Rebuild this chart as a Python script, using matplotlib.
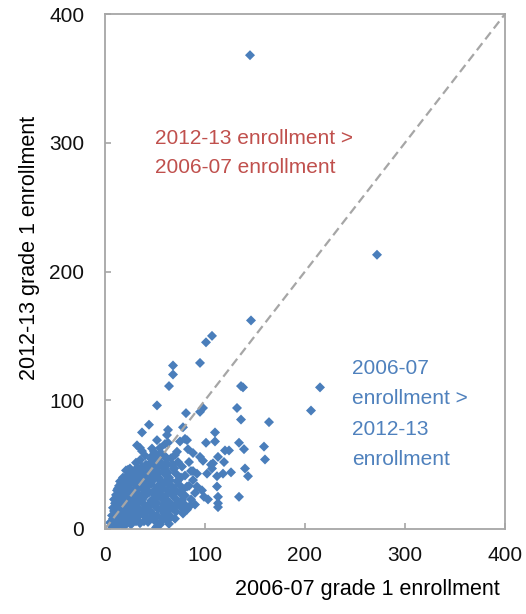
import matplotlib
matplotlib.use("Agg")
import matplotlib.pyplot as plt
from matplotlib import font_manager

# ---- enrollment data: (2006-07, 2012-13) grade 1 enrollment per school ----
# schools away from the main cluster
outlier_x = [145, 272, 146, 101, 107, 95, 68, 68, 64, 52, 136, 138, 98, 95, 132,
             136, 164, 110, 110, 134, 139, 159, 160, 120, 124, 113, 108, 107, 119,
             140, 143, 126, 118, 112, 134, 113, 113, 113, 99, 103, 215, 206, 81,
             44, 37, 63, 62, 32, 35, 52, 55, 60, 63, 75, 80, 83, 72, 88, 95, 98,
             112, 101, 106, 102, 92, 88, 92, 97, 90, 82, 78, 82, 23, 55, 52]
outlier_y = [368, 213, 162, 145, 150, 129, 127, 120, 111, 96, 111, 110, 94, 91, 94,
             85, 83, 75, 68, 67, 62, 64, 54, 61, 61, 56, 51, 47, 52,
             47, 41, 44, 43, 41, 25, 25, 20, 17, 25, 23, 110, 92, 90,
             81, 75, 77, 73, 65, 63, 69, 63, 66, 67, 68, 70, 62, 60, 59, 56, 53,
             33, 67, 50, 43, 43, 38, 33, 30, 19, 15, 79, 69, 46, 5, 2]

# schools in the dense cluster
cluster_x = [
    6, 10, 14, 19, 51, 55,
    5, 9, 12, 17, 21, 26, 31, 35, 43, 64,
    8, 11, 15, 18, 23, 28, 33, 39, 45, 49, 57, 70,
    7, 13, 16, 22, 25, 30, 35, 41, 47, 52, 61, 66, 62,
    9, 11, 16, 20, 24, 28, 32, 37, 42, 46, 53, 59, 63, 71, 78, 68,
    8, 12, 14, 18, 22, 27, 31, 35, 40, 44, 50, 56, 62, 67, 76, 72,
    10, 12, 16, 21, 25, 29, 34, 38, 43, 48, 52, 59, 64, 73, 79, 85,
    9, 13, 15, 19, 24, 28, 32, 37, 40, 46, 51, 57, 61, 70, 86, 77,
    11, 14, 18, 22, 27, 31, 35, 38, 44, 50, 55, 60, 68, 75, 80,
    12, 13, 17, 21, 24, 30, 33, 39, 42, 48, 53, 58, 62, 71, 78, 66,
    14, 16, 20, 23, 29, 32, 36, 41, 46, 52, 57, 63, 67, 74, 84, 90,
    15, 19, 22, 28, 31, 37, 40, 46, 49, 56, 61, 65, 72, 82,
    18, 23, 26, 31, 34, 39, 45, 48, 54, 60, 64, 80, 76,
    21, 26, 30, 33, 38, 44, 47, 53, 59, 63, 71, 86, 69,
    25, 32, 37, 43, 46, 52, 58, 62, 69, 77, 88,
    31, 41, 45, 51, 57, 61, 68, 73,
    35, 46, 50, 54, 62, 84,
    40, 48, 55, 60, 70, 66,
    37, 49, 56,
    47,
]
cluster_y = [
    2.5, 1.5, 3.0, 2.0, 1.0, 3.5,
    5.0, 4.0, 6.5, 4.5, 5.5, 3.5, 6.0, 4.5, 5.5, 4.0,
    8.0, 7.0, 9.0, 6.5, 8.5, 7.5, 9.5, 6.0, 8.0, 7.0, 8.5, 8.0,
    10.5, 12.0, 9.5, 11.0, 12.5, 10.0, 11.5, 9.0, 12.0, 10.5, 11.0, 9.5, 6.5,
    14.0, 13.0, 15.5, 12.5, 14.5, 13.5, 15.0, 12.0, 14.0, 13.0, 15.5, 12.5, 14.0, 13.5, 12.0, 16.0,
    16.5, 18.0, 15.5, 17.5, 16.0, 18.5, 17.0, 15.0, 16.5, 18.0, 17.5, 15.5, 16.0, 18.5, 17.0, 19.5,
    20.0, 21.5, 19.0, 20.5, 22.0, 19.5, 21.0, 20.0, 18.5, 21.5, 20.0, 19.0, 21.0, 20.5, 19.5, 18.0,
    23.0, 24.5, 22.0, 23.5, 25.0, 22.5, 24.0, 23.0, 25.5, 22.0, 24.5, 23.5, 22.5, 24.0, 23.0, 22.5,
    26.5, 27.5, 25.5, 26.0, 28.0, 26.5, 25.5, 27.0, 28.5, 26.0, 27.5, 25.0, 26.5, 28.0, 26.0,
    30.0, 31.5, 29.0, 30.5, 32.0, 29.5, 31.0, 30.0, 32.5, 29.0, 30.5, 31.5, 30.0, 29.5, 31.0, 27.5,
    33.5, 35.0, 32.5, 34.0, 35.5, 33.0, 34.5, 33.5, 35.0, 32.5, 34.0, 35.5, 33.0, 34.5, 33.5, 28.0,
    37.0, 38.5, 36.5, 37.5, 39.0, 36.0, 38.0, 37.0, 38.5, 36.5, 37.5, 38.0, 37.0, 33.0,
    40.0, 42.0, 40.5, 41.5, 39.5, 42.0, 40.5, 41.0, 39.5, 42.5, 40.0, 41.5, 40.0,
    45.5, 43.5, 44.5, 46.0, 43.0, 45.0, 44.5, 43.5, 45.5, 44.0, 43.0, 45.0, 47.0,
    47.0, 47.5, 48.5, 46.5, 49.0, 47.5, 48.0, 49.5, 47.0, 48.5, 45.0,
    51.5, 50.0, 51.0, 52.5, 50.5, 51.5, 50.0, 52.0,
    53.5, 54.5, 53.0, 55.0, 54.5, 52.0,
    57.0, 57.5, 58.0, 56.5, 57.5, 55.0,
    60.5, 60.0, 59.0,
    62.5,
]

x_2006 = outlier_x + cluster_x
y_2012 = outlier_y + cluster_y

x_ticks = [0, 100, 200, 300, 400]
y_ticks = [0, 100, 200, 300, 400]

# ---- styling ----
names = {f.name for f in font_manager.fontManager.ttflist}
family = ["Liberation Sans Narrow", "Liberation Sans", "DejaVu Sans"]
family = [f for f in family if f in names] or ["DejaVu Sans"]
plt.rcParams["font.family"] = family

marker_blue = "#4A7EBB"
text_red = "#C0504D"
text_blue = "#4F81BD"
frame_gray = "#A6A6A6"

fig = plt.figure(figsize=(5.26, 6.14), dpi=100)
ax = fig.add_axes([105 / 526, 85 / 614, 400 / 526, 515 / 614])

ax.plot([0, 400], [0, 400], linestyle=(0, (4, 2.2)), color=frame_gray,
        linewidth=1.6, zorder=3)
ax.scatter(x_2006, y_2012, marker="D", s=26, color=marker_blue,
           edgecolors="none", zorder=2)

ax.set_xlim(0, 400)
ax.set_ylim(0, 400)
ax.set_xticks(x_ticks)
ax.set_yticks(y_ticks)
for sp in ax.spines.values():
    sp.set_color(frame_gray)
    sp.set_linewidth(1.3)
ax.tick_params(axis="both", direction="in", length=4, width=1.2,
               color=frame_gray, labelsize=15, labelcolor="#111111")
ax.tick_params(axis="y", pad=15)
ax.tick_params(axis="x", pad=12)

ax.set_xlabel("2006-07 grade 1 enrollment", fontsize=15.5, ha="right", va="top")
ax.xaxis.set_label_coords(0.9875, -0.098)
ax.set_ylabel("2012-13 grade 1 enrollment", fontsize=15.5, va="center")
ax.yaxis.set_label_coords(-0.19, 0.545)

ax.text(50, 292, "2012-13 enrollment >\n2006-07 enrollment", color=text_red,
        fontsize=15, ha="left", va="center", linespacing=1.65)
ax.text(247, 132, "2006-07\nenrollment >\n2012-13\nenrollment", color=text_blue,
        fontsize=15, ha="left", va="top", linespacing=1.75)

fig.savefig("out.png", dpi=100)
